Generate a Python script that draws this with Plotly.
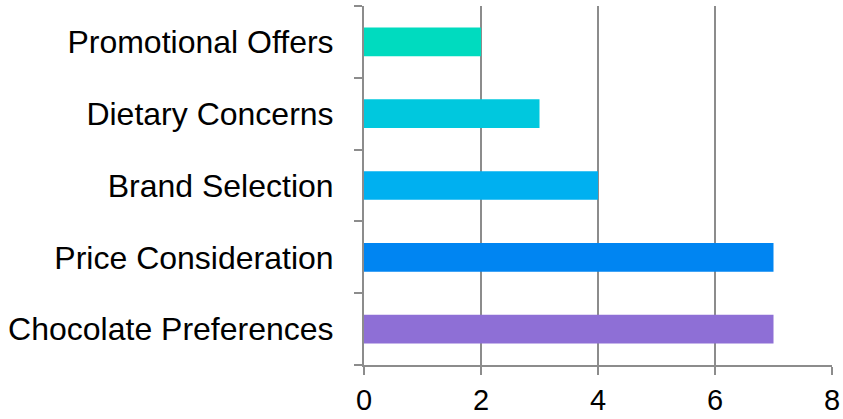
import plotly.graph_objects as go

# Categories listed bottom to top, as Plotly stacks categorical y values upward
categories = [
    "Chocolate Preferences",
    "Price Consideration",
    "Brand Selection",
    "Dietary Concerns",
    "Promotional Offers",
]
values = [7, 7, 4, 3, 2]
bar_colors = ["#8E6FD6", "#0085F2", "#00B0F0", "#00C8DE", "#00DBBF"]
x_ticks = [0, 2, 4, 6, 8]

LINE = "#8c8c8c"
FONT = "Liberation Sans, Arial, sans-serif"

fig = go.Figure(
    go.Bar(
        x=values,
        y=categories,
        orientation="h",
        marker=dict(color=bar_colors, line=dict(width=0)),
        width=0.4,
    )
)

fig.update_layout(
    width=843,
    height=419,
    margin=dict(l=364, r=11, t=6, b=54),
    plot_bgcolor="white",
    paper_bgcolor="white",
    showlegend=False,
    font=dict(family=FONT, size=32, color="#000000"),
)

fig.update_xaxes(
    range=[0, 8],
    tickvals=x_ticks,
    ticktext=[str(v) for v in x_ticks],
    showgrid=True,
    gridcolor=LINE,
    gridwidth=2,
    showline=True,
    linecolor=LINE,
    linewidth=2,
    ticks="outside",
    ticklen=8,
    tickwidth=2,
    tickcolor=LINE,
    zeroline=False,
    automargin=False,
    ticklabelstandoff=0,
    tickfont=dict(family=FONT, size=29, color="#000000"),
)

fig.update_yaxes(
    type="category",
    categoryorder="array",
    categoryarray=categories,
    showgrid=False,
    showline=True,
    linecolor=LINE,
    linewidth=2,
    ticks="outside",
    tickson="boundaries",
    ticklen=8,
    tickwidth=2,
    tickcolor=LINE,
    automargin=False,
    ticklabelstandoff=22,
    tickfont=dict(family=FONT, size=32, color="#000000"),
)

fig.write_html("out.html")
